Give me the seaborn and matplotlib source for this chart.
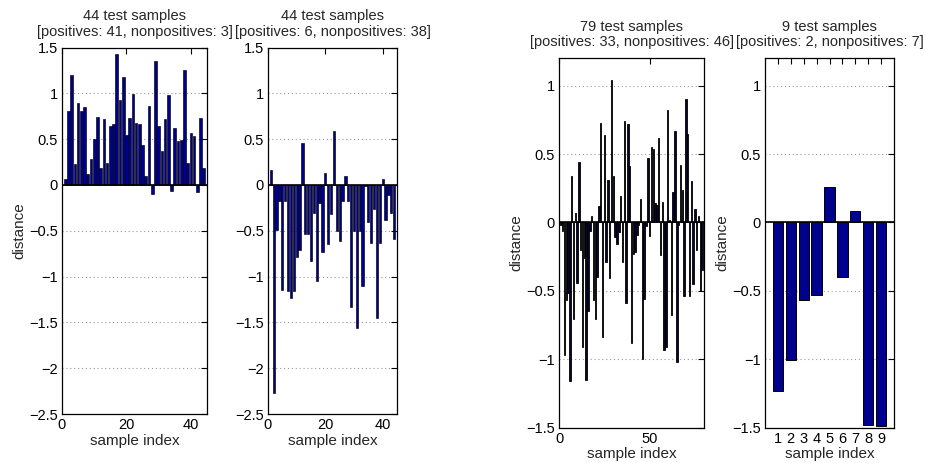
import numpy as np
import pandas as pd
import matplotlib
matplotlib.use("Agg")
import matplotlib.pyplot as plt
import seaborn as sns

# ---------------- data ----------------
dist_a = [0.06, 0.81, 1.20, 0.23, 0.89, 0.81, 0.85, 0.12, 0.28, 0.50,
          0.74, 0.18, 0.72, 0.24, 0.64, 0.66, 1.43, 0.93, 1.18, 0.55,
          0.73, 0.99, 0.68, 0.66, 0.44, 0.10, 0.86, -0.10, 1.35, 0.64,
          0.37, 0.72, 0.98, -0.07, 0.62, 0.48, 0.49, 1.25, 0.24, 0.57,
          0.53, -0.08, 0.73, 0.18]

dist_b = [0.16, -2.27, -0.49, -0.17, -1.15, -0.17, -1.16, -1.23, -1.16, -0.79,
          -0.71, 0.46, -0.54, -0.54, -0.83, -0.31, -1.05, -0.20, -0.73, 0.13,
          -0.64, -0.32, 0.59, -0.50, -0.61, -0.18, 0.10, -0.18, -1.33, -0.50,
          -1.56, -0.50, -1.10, -0.01, -0.40, -0.63, -0.26, -1.45, -0.63, 0.07,
          -0.38, -0.11, -0.31, -0.59]

dist_c = [-0.02, -0.06, -0.97, -0.57, -0.52, -1.16, 0.34, -0.71, 0.07, -0.44,
          0.44, -0.20, -0.91, -0.26, -1.15, -0.65, -0.06, 0.05, -0.57, -0.71,
          -0.40, 0.12, 0.73, -0.84, 0.64, -0.29, 0.31, -0.41, 1.04, 0.34,
          -0.11, -0.16, -0.07, 0.19, -0.29, 0.74, -0.59, 0.72, 0.41, -0.88,
          -0.23, -0.22, -0.09, -0.02, 0.17, -1.00, -0.56, -0.03, 0.47, -0.10,
          0.55, 0.54, 0.14, 0.13, 0.62, -0.24, 0.15, -0.93, -0.91, 0.82,
          0.02, -0.68, 0.22, 0.67, -1.02, -0.02, 0.42, 0.24, -0.54, 0.90,
          0.65, -0.54, 0.30, -0.45, 0.10, -0.20, 0.05, -0.50, -0.35]

dist_d = [-1.23, -1.01, -0.57, -0.53, 0.26, -0.40, 0.08, -1.48, -1.49]

titles = ["44 test samples\n[positives: 41, nonpositives: 3]",
          "44 test samples\n[positives: 6, nonpositives: 38]",
          "79 test samples\n[positives: 33, nonpositives: 46]",
          "9 test samples\n[positives: 2, nonpositives: 7]"]

xticks_list = [[0, 20, 40], [0, 20, 40], [0, 50], [1, 2, 3, 4, 5, 6, 7, 8, 9]]
xlims = [(0, 45), (0, 45), (0, 80), (0, 10)]
ylims = [(-2.5, 1.5), (-2.5, 1.5), (-1.5, 1.2), (-1.5, 1.2)]
yticks_list = [[-2.5, -2, -1.5, -1, -0.5, 0, 0.5, 1, 1.5],
               [-2.5, -2, -1.5, -1, -0.5, 0, 0.5, 1, 1.5],
               [-1.5, -1, -0.5, 0, 0.5, 1],
               [-1.5, -1, -0.5, 0, 0.5, 1]]
show_ylabel = [True, False, True, True]
edge_widths = [0.45, 0.45, 0.6, 0.7]
face_colors = ["#00008F", "#00008F", "#05052E", "#00008F"]

# ---------------- style ----------------
sns.set_theme(style="white")
plt.rcParams["font.family"] = ["Liberation Sans", "DejaVu Sans"]
plt.rcParams["axes.edgecolor"] = "black"
plt.rcParams["axes.linewidth"] = 0.8

fig = plt.figure(figsize=(9.25, 4.63), dpi=100)

W, H = 925.0, 463.0
boxes = [(62, 207, 47.5, 414), (268, 397, 47.5, 414),
         (559, 704, 58.3, 427.5), (765, 894, 58.3, 427.5)]

datasets = [dist_a, dist_b, dist_c, dist_d]

def fmt(v):
    s = "%g" % v
    return s.replace("-", "\u2212")

for k, (l, r, t, b) in enumerate(boxes):
    ax = fig.add_axes([l / W, (H - b) / H, (r - l) / W, (b - t) / H])
    vals = datasets[k]
    df = pd.DataFrame({"idx": np.arange(1, len(vals) + 1), "d": vals})
    sns.barplot(data=df, x="idx", y="d", ax=ax, native_scale=True, orient="x",
                color=face_colors[k], saturation=1, edgecolor="black",
                linewidth=edge_widths[k], width=0.8, errorbar=None, zorder=2)
    ax.axhline(0, color="black", lw=1.2, zorder=3)
    ax.set_xlim(*xlims[k])
    ax.set_ylim(*ylims[k])
    ax.set_xticks(xticks_list[k])
    ax.set_xticklabels([fmt(v) for v in xticks_list[k]])
    ax.set_yticks(yticks_list[k])
    ax.set_yticklabels([fmt(v) for v in yticks_list[k]])
    ax.yaxis.grid(True, linestyle=(0, (1, 2.5)), color="#999999", lw=0.8)
    ax.xaxis.grid(False)
    ax.set_axisbelow(True)
    ax.tick_params(direction="in", length=4, width=0.8, top=True, right=True,
                   labelsize=10.5, colors="black", pad=3)
    for sp in ax.spines.values():
        sp.set_visible(True)
        sp.set_color("black")
        sp.set_linewidth(0.9)
    ax.set_xlabel("sample index", fontsize=11, labelpad=1)
    if show_ylabel[k]:
        ax.set_ylabel("distance", fontsize=11, labelpad=2)
    else:
        ax.set_ylabel("")
    ax.set_title(titles[k], fontsize=10.5, pad=8.5, linespacing=1.12)

fig.savefig("out.png", dpi=100)
